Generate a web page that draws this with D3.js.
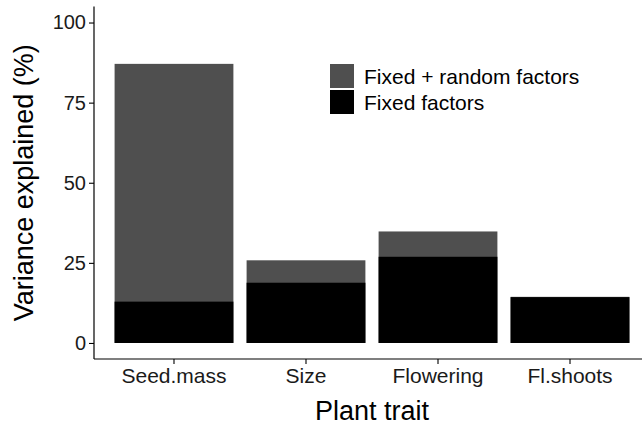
<!DOCTYPE html>
<html>
<head>
<meta charset="utf-8">
<script src="https://cdn.jsdelivr.net/npm/d3@7/dist/d3.min.js"></script>
<style>
  html, body { margin: 0; padding: 0; background: #fff; }
  svg { display: block; }
  text { font-family: "Liberation Sans", Arial, sans-serif; }
</style>
</head>
<body>
<div id="chart"></div>
<script>
const categories = ["Seed.mass", "Size", "Flowering", "Fl.shoots"];
const fixedRandom = [87.1, 25.8, 34.8, 14.4];
const fixedOnly = [12.9, 18.8, 26.9, 14.3];
const yTicks = [0, 25, 50, 75, 100];
const legendLabels = ["Fixed + random factors", "Fixed factors"];
const seriesColors = ["#4f4f4f", "#000000"];
const xTitle = "Plant trait";
const yTitle = "Variance explained (%)";

const W = 642, H = 427;
const panel = { left: 94, right: 650, top: 6.5, bottom: 359 };

const svg = d3.select("#chart").append("svg")
  .attr("width", W).attr("height", H);

const x = d3.scaleBand()
  .domain(categories)
  .range([panel.left, panel.right])
  .paddingInner(0.1)
  .paddingOuter(0.156);

const y = d3.scaleLinear()
  .domain([-5, 105])
  .range([panel.bottom, panel.top]);

// bars: total (grey) then fixed (black) overlaid
const gBars = svg.append("g");
gBars.selectAll("rect.total")
  .data(categories)
  .join("rect")
  .attr("class", "total")
  .attr("x", d => x(d))
  .attr("width", x.bandwidth())
  .attr("y", (d, i) => y(fixedRandom[i]))
  .attr("height", (d, i) => y(0) - y(fixedRandom[i]))
  .attr("fill", seriesColors[0]);

gBars.selectAll("rect.fixed")
  .data(categories)
  .join("rect")
  .attr("class", "fixed")
  .attr("x", d => x(d))
  .attr("width", x.bandwidth())
  .attr("y", (d, i) => y(fixedOnly[i]))
  .attr("height", (d, i) => y(0) - y(fixedOnly[i]))
  .attr("fill", seriesColors[1]);

// axes
const yAxis = d3.axisLeft(y).tickValues(yTicks).tickSize(5).tickPadding(3);
const gy = svg.append("g")
  .attr("transform", `translate(${panel.left},0)`)
  .call(yAxis);
gy.select(".domain").attr("d", `M0,${panel.top}V${panel.bottom}`).attr("stroke", "#000").attr("stroke-width", 1.2);
gy.selectAll(".tick line").attr("stroke", "#000").attr("stroke-width", 1.1);
gy.selectAll(".tick text").attr("font-size", 20).attr("fill", "#1a1a1a")
  .style("font-family", "'Liberation Sans', Arial, sans-serif");

const xAxis = d3.axisBottom(x).tickSize(5).tickPadding(4);
const gx = svg.append("g")
  .attr("transform", `translate(0,${panel.bottom})`)
  .call(xAxis);
gx.select(".domain").attr("d", `M${panel.left},0H${panel.right}`).attr("stroke", "#000").attr("stroke-width", 1.2);
gx.selectAll(".tick line").attr("stroke", "#000").attr("stroke-width", 1.1);
gx.selectAll(".tick text").attr("font-size", 21).attr("fill", "#1a1a1a")
  .style("font-family", "'Liberation Sans', Arial, sans-serif");

// axis titles
svg.append("text")
  .attr("x", (panel.left + panel.right) / 2)
  .attr("y", 420)
  .attr("text-anchor", "middle")
  .attr("font-size", 27)
  .attr("fill", "#000")
  .text(xTitle);

svg.append("text")
  .attr("transform", `translate(33,${(panel.top + panel.bottom) / 2}) rotate(-90)`)
  .attr("text-anchor", "middle")
  .attr("font-size", 27)
  .attr("fill", "#000")
  .text(yTitle);

// legend
const legend = svg.append("g").attr("transform", "translate(330,64)");
legendLabels.forEach((lab, i) => {
  const g = legend.append("g").attr("transform", `translate(0,${i * 26})`);
  g.append("rect").attr("width", 24).attr("height", 24)
    .attr("fill", seriesColors[i]);
  g.append("text").attr("x", 34).attr("y", 12).attr("dy", "0.36em")
    .attr("font-size", 21).attr("fill", "#000").text(lab);
});
</script>
</body>
</html>
